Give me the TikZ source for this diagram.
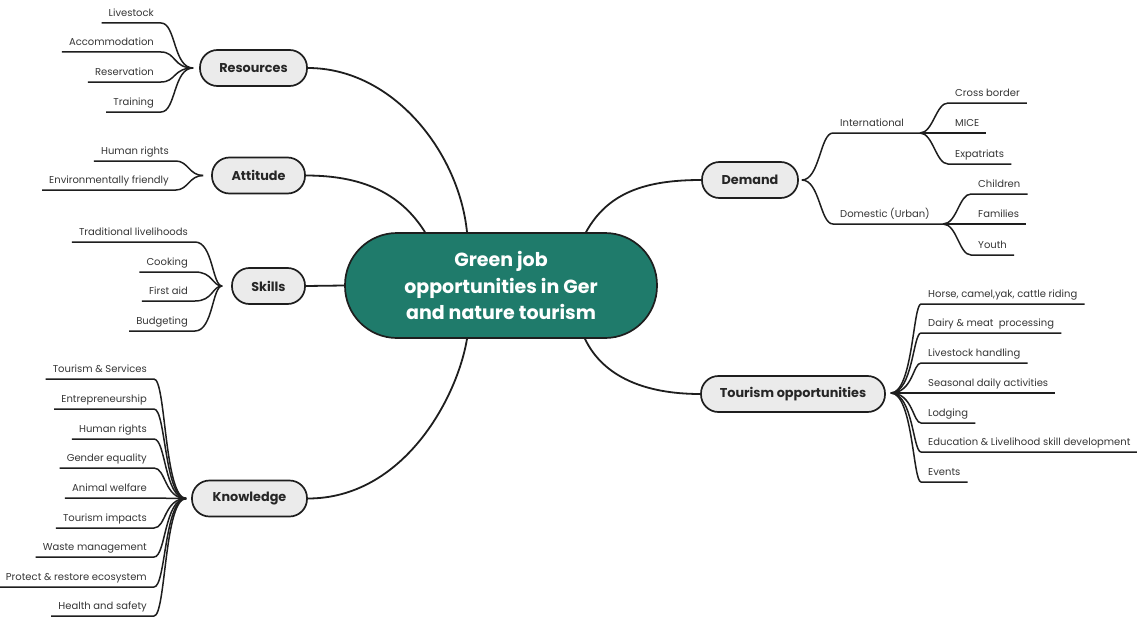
\documentclass[tikz,border=0pt]{standalone}
\usepackage{fontspec}
\setmainfont{Poppins}
\usetikzlibrary{calc}
\definecolor{nodegray}{HTML}{EBEBEB}
\definecolor{linec}{HTML}{1E1E1E}
\definecolor{leaftext}{HTML}{363636}
\definecolor{textdark}{HTML}{262626}
\definecolor{centerteal}{HTML}{1F7B6B}
\begin{document}
\begin{tikzpicture}[x=1pt,y=-1pt,
  mainnode/.style={draw=linec, line width=1.7pt, fill=nodegray, rounded corners=17.5pt,
    minimum height=36pt, inner sep=0pt, font=\fontsize{12.8}{14}\selectfont\bfseries, text=textdark},
  leafL/.style={anchor=south east, inner xsep=7pt, inner ysep=3.5pt, text height=7.5pt,
    text depth=2.5pt, font=\fontsize{10}{12}\selectfont, text=leaftext},
  leafR/.style={leafL, anchor=south west},
  branch/.style={draw=linec, line width=1.8pt},
  twig/.style={draw=linec, line width=1.5pt},
]
\fill[white] (0,0) rectangle (1137,618);
\useasboundingbox (0,0) rectangle (1137,618);

% central node
\node[draw=linec, line width=1.7pt, fill=centerteal, rounded corners=52pt,
  minimum width=312pt, minimum height=105pt, inner sep=0pt, text=white, align=center,
  font=\fontsize{19}{26.5}\selectfont\bfseries] (C) at (501,285.5)
  {Green job\\opportunities in Ger\\and nature tourism};

% main nodes
\node[mainnode, minimum width=107pt] (res) at (253.5,68) {Resources};
\node[mainnode, minimum width=93pt] (att) at (258.5,175.5) {Attitude};
\node[mainnode, minimum width=73pt] (sk) at (268.5,286) {Skills};
\node[mainnode, minimum width=115pt] (kn) at (249.5,498.5) {Knowledge};
\node[mainnode, minimum width=96pt] (dem) at (750,180) {Demand};
\node[mainnode, minimum width=184pt] (tour) at (793,394) {Tourism opportunities};

% main connectors
\draw[branch] (res.east) .. controls +(85,0) and +(-8,-80) .. ($(C.north)+(-34,0)$);
\draw[branch] (att.east) .. controls +(55,0) and +(-25,-40) .. ($(C.north)+(-76,0)$);
\draw[branch] (sk.east) -- (C.west);
\draw[branch] (kn.east) .. controls +(95,0) and +(-10,60) .. ($(C.south)+(-34,0)$);
\draw[branch] ($(C.north)+(85,0)$) .. controls +(22,-40) and +(-55,0) .. (dem.west);
\draw[branch] ($(C.south)+(84,0)$) .. controls +(18,38) and +(-55,0) .. (tour.west);

% Resources leaves
\coordinate (rconv) at ($(res.west)+(-6,0)$);
\node[leafL] (r1) at (161,23) {Livestock};
\node[leafL] (r2) at (161,52) {Accommodation};
\node[leafL] (r3) at (161,82) {Reservation};
\node[leafL] (r4) at (161,112) {Training};
\foreach \n in {r1,r2,r3,r4}
  \draw[twig] (rconv) .. controls +(-20,0) and +(15,0) .. (\n.south east) -- (\n.south west);

% Attitude leaves
\coordinate (aconv) at ($(att.west)+(-8,0)$);
\node[leafL] (a1) at (176,161) {Human rights};
\node[leafL] (a2) at (176,190) {Environmentally friendly};
\foreach \n in {a1,a2}
  \draw[twig] (aconv) .. controls +(-14,0) and +(12,0) .. (\n.south east) -- (\n.south west);

% Skills leaves
\coordinate (sconv) at ($(sk.west)+(-9,0)$);
\node[leafL] (s1) at (195,242) {Traditional livelihoods};
\node[leafL] (s2) at (195,272) {Cooking};
\node[leafL] (s3) at (195,301) {First aid};
\node[leafL] (s4) at (195,331) {Budgeting};
\foreach \n in {s1,s2,s3,s4}
  \draw[twig] (sconv) .. controls +(-10,0) and +(18,0) .. (\n.south east) -- (\n.south west);

% Knowledge leaves
\coordinate (kconv) at ($(kn.west)+(-5,0)$);
\node[leafL] (k1) at (154,379) {Tourism \& Services};
\node[leafL] (k2) at (154,409) {Entrepreneurship};
\node[leafL] (k3) at (154,439) {Human rights};
\node[leafL] (k4) at (154,468) {Gender equality};
\node[leafL] (k5) at (154,498) {Animal welfare};
\node[leafL] (k6) at (154,528) {Tourism impacts};
\node[leafL] (k7) at (154,557) {Waste management};
\node[leafL] (k8) at (154,587) {Protect \& restore ecosystem};
\node[leafL] (k9) at (154,616) {Health and safety};
\foreach \n in {k1,k2,k3,k4,k5,k6,k7,k8,k9}
  \draw[twig] (kconv) .. controls +(-22,0) and +(12,0) .. (\n.south east) -- (\n.south west);

% Demand leaves
\coordinate (dconv) at ($(dem.east)+(3,0)$);
\node[leafR] (d1) at (833,133) {International};
\node[leafR] (d2) at (833,224) {Domestic (Urban)};
\coordinate (intconv) at (920,133);
\coordinate (domconv) at (943,224);
\draw[twig] (dconv) .. controls +(18,0) and +(-13,0) .. (d1.south west) -- (intconv);
\draw[twig] (dconv) .. controls +(18,0) and +(-13,0) .. (d2.south west) -- (domconv);

\node[leafR] (i1) at (948,103) {Cross border};
\node[leafR] (i2) at (948,133) {MICE};
\node[leafR] (i3) at (948,164) {Expatriats};
\draw[twig] (intconv) .. controls +(13,0) and +(-12,0) .. (i1.south west) -- (i1.south east);
\draw[twig] (intconv) -- (i2.south east);
\draw[twig] (intconv) .. controls +(13,0) and +(-12,0) .. (i3.south west) -- (i3.south east);

\node[leafR] (u1) at (971,194) {Children};
\node[leafR] (u2) at (971,224) {Families};
\node[leafR] (u3) at (971,255) {Youth};
\draw[twig] (domconv) .. controls +(14,0) and +(-12,0) .. (u1.south west) -- (u1.south east);
\draw[twig] (domconv) -- (u2.south east);
\draw[twig] (domconv) .. controls +(14,0) and +(-12,0) .. (u3.south west) -- (u3.south east);

% Tourism opportunities leaves
\coordinate (tconv) at ($(tour.east)+(5,-1)$);
\node[leafR] (t1) at (921,304) {Horse, camel,yak, cattle riding};
\node[leafR] (t2) at (921,333) {Dairy \& meat\ \ processing};
\node[leafR] (t3) at (921,363) {Livestock handling};
\node[leafR] (t4) at (921,393) {Seasonal daily activities};
\node[leafR] (t5) at (921,423) {Lodging};
\node[leafR] (t6) at (921,452) {Education \& Livelihood skill development};
\node[leafR] (t7) at (921,482) {Events};
\foreach \n in {t1,t2,t3,t5,t6,t7}
  \draw[twig] (tconv) .. controls +(22,0) and +(-8,0) .. (\n.south west) -- (\n.south east);
\draw[twig] (tconv) -- (t4.south east);
\end{tikzpicture}
\end{document}
